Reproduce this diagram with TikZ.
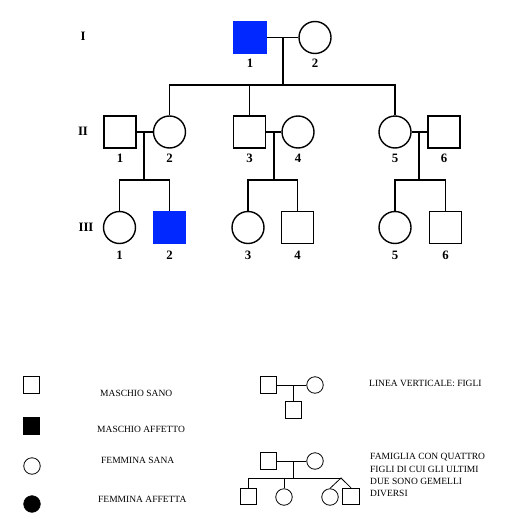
\documentclass[tikz,border=0pt]{standalone}
\usepackage{fontspec}
\setmainfont{Liberation Serif}
\usepackage{tikz}
\definecolor{pedblue}{RGB}{0,40,255}
\tikzset{
	male/.style={draw,rectangle,minimum size=32pt,inner sep=0pt,line width=1.4pt},
	female/.style={draw,circle,minimum size=32pt,inner sep=0pt,line width=1.4pt},
	maleA/.style={male,fill=pedblue,draw=pedblue},
	lmale/.style={draw,rectangle,minimum size=16.5pt,inner sep=0pt,line width=0.8pt},
	lfemale/.style={draw,circle,minimum size=16.5pt,inner sep=0pt,line width=0.8pt},
	lmaleA/.style={lmale,fill=black},
	lfemaleA/.style={lfemale,fill=black},
	num/.style={font=\fontsize{12.8}{14}\selectfont\bfseries,inner sep=0pt},
	legtext/.style={font=\fontsize{9.5}{11}\selectfont,inner sep=0pt,anchor=west},
	pline/.style={line width=1.4pt},
	lline/.style={line width=0.8pt}
}
\begin{document}
\begin{tikzpicture}[x=1pt,y=-1pt]
	\useasboundingbox (0,0) rectangle (518,522);

	% generation numbers
	\node[num] (gI) at (83,36) {I};
	\node[num] (gII) at (83,131) {II};
	\node[num] (gIII) at (86,227) {III};

	% generation I
	\node[maleA] (I-1) at (250,37.5) {};
	\node[female] (I-2) at (315,37.5) {};
	\foreach \n in {1,2} { \node[num] (lI-\n) at ([yshift=-26pt]I-\n) {\n};}
	\draw[pline] (I-1) -- (I-2);
	\coordinate (mI) at (283,37.5);
	\coordinate (sII) at (283,85);
	\draw[pline] (mI) -- (sII);
	\draw[pline] (170,85) -- (395,85);

	% generation II
	\foreach \n / \x / \s in {1/120/male,2/169.5/female,3/249.5/male,4/298/female,5/395/female,6/444/male} {
		\node[\s] (II-\n) at (\x,132) {};
		\node[num] (lII-\n) at ([yshift=-26pt]II-\n) {\n};
	}
	\draw[pline] (II-1) -- (II-2);
	\draw[pline] (II-3) -- (II-4);
	\draw[pline] (II-5) -- (II-6);
	\draw[pline] (II-2.north) |- (sII);
	\draw[pline] (II-3.north) -- (II-3.north |- sII);
	\draw[pline] (II-5.north) |- (sII);

	% generation III
	\foreach \n / \x / \s in {1/119.5/female,2/169.5/maleA,3/248/female,4/297.5/male,5/395/female,6/445.5/male} {
		\node[\s] (III-\n) at (\x,227.5) {};
		\node[num] (lIII-\n) at ([yshift=-27.5pt]III-\n) {\n};
	}
	\foreach \a / \m in {1/144,4/274,5/419} {
		\coordinate (m\a) at (\m,132);
		\coordinate (s\a) at (\m,180);
		\draw[pline] (m\a) -- (s\a);
	}
	\draw[pline] (III-1.north) |- (s1) -| (III-2.north);
	\draw[pline] (III-3.north) |- (s4) -| (III-4.north);
	\draw[pline] (III-5.north) |- (s5) -| (III-6.north);

	% legend
	\node[lmale] (LM) at (31.5,385) {};
	\node[lmaleA] (LMA) at (31.5,426) {};
	\node[lfemale] (LF) at (32,466) {};
	\node[lfemaleA] (LFA) at (32,504) {};
	\node[legtext] (tLM) at (100,393) {MASCHIO SANO};
	\node[legtext] (tLMA) at (97,429) {MASCHIO AFFETTO};
	\node[legtext] (tLF) at (101,460) {FEMMINA SANA};
	\node[legtext] (tLFA) at (98,499) {FEMMINA AFFETTA};

	% legend: figli
	\node[lmale] (La) at (268.5,385) {};
	\node[lfemale] (Lb) at (315,385) {};
	\node[lmale] (Lc) at (293.5,410) {};
	\draw[lline] (La) -- (Lb);
	\draw[lline] (Lc.north) -- (Lc.north |- La);
	\node[legtext] (tLc) at (369,383.5) {LINEA VERTICALE: FIGLI};

	% legend: gemelli
	\node[lmale] (Ga) at (268.5,461) {};
	\node[lfemale] (Gb) at (315,461) {};
	\draw[lline] (Ga) -- (Gb);
	\coordinate (Gm) at (293,461);
	\coordinate (Gs) at (293,478);
	\coordinate (Gt) at (341,478);
	\draw[lline] (Gm) -- (Gs);
	\node[lmale] (G1) at (248.5,496.5) {};
	\node[lfemale] (G2) at (284,497) {};
	\node[lfemale] (G3) at (330,497) {};
	\node[lmale] (G4) at (351,496.5) {};
	\draw[lline] (G1.north) |- (Gt);
	\draw[lline] (G2.north) -- (G2.north |- Gt);
	\draw[lline] (G3.north) -- (Gt) -- (G4.north);
	\foreach \y / \t in {456.7/FAMIGLIA CON QUATTRO,468.9/FIGLI DI CUI GLI ULTIMI,481.1/DUE SONO GEMELLI,493.3/DIVERSI} {
		\node[legtext] (t\y) at (370,\y) {\t};
	}
\end{tikzpicture}
\end{document}
